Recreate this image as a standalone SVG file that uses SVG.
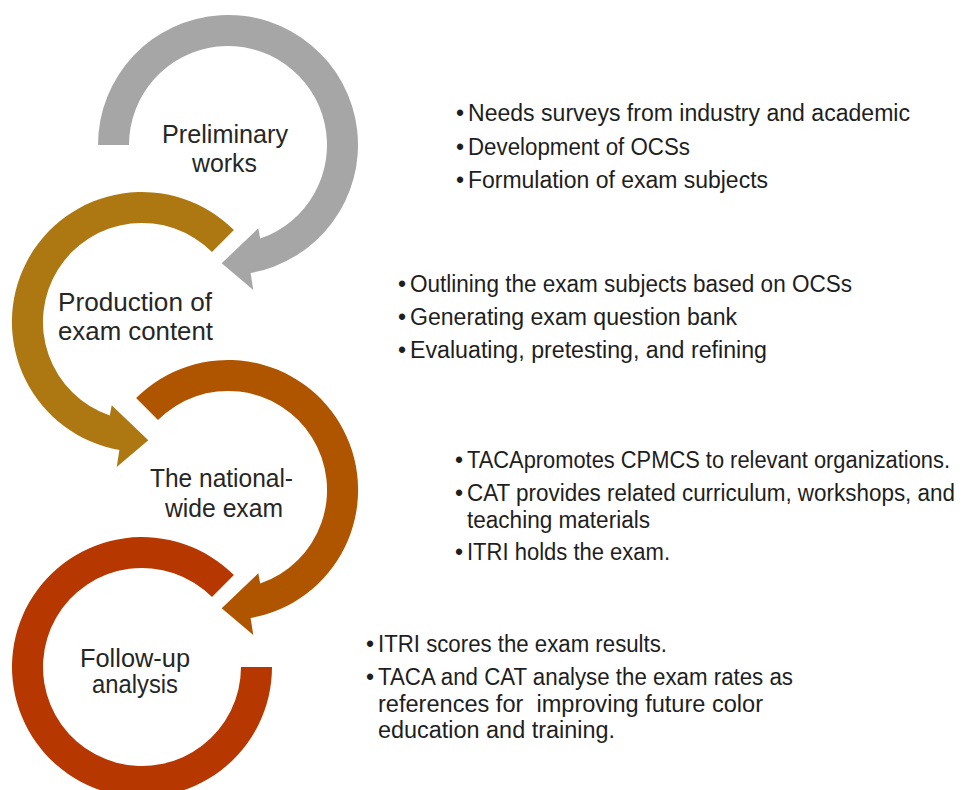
<svg xmlns="http://www.w3.org/2000/svg" width="976" height="790" viewBox="0 0 976 790">
<style>
.lbl{font-family:"Liberation Sans",Arial,sans-serif;font-size:25px;fill:#262626;text-anchor:middle}
.txt{font-family:"Liberation Sans",Arial,sans-serif;font-size:23px;fill:#1e1e1e}
</style>
<rect width="976" height="790" fill="#ffffff"/>
<g id="stage-preliminary">
<path fill="#A6A6A6" d="M 98 145 A 130 130 0 1 1 250.6 273 L 253.3 290 L 221.7 263.3 L 258.3 228.3 L 260.2 238.6 A 99 99 0 1 0 129 145 Z"/>
<text class="lbl" x="225" y="143" textLength="126" lengthAdjust="spacingAndGlyphs">Preliminary</text>
<text class="lbl" x="224.5" y="172" textLength="65" lengthAdjust="spacingAndGlyphs">works</text>
</g>
<g id="stage-production">
<path fill="#AD7812" d="M 233.9 230.1 A 130 130 0 1 0 119.4 450 L 116.7 467 L 148.3 440.3 L 111.7 405.3 L 109.8 415.6 A 99 99 0 1 1 212 252 Z"/>
<text class="lbl" x="135" y="311" textLength="154" lengthAdjust="spacingAndGlyphs">Production of</text>
<text class="lbl" x="135.5" y="340" textLength="155" lengthAdjust="spacingAndGlyphs">exam content</text>
</g>
<g id="stage-exam">
<path fill="#AF5500" d="M 136.1 398.1 A 130 130 0 1 1 250.6 618 L 253.3 635 L 221.7 608.3 L 258.3 573.3 L 260.2 583.6 A 99 99 0 1 0 158 420 Z"/>
<text class="lbl" x="221.5" y="487" textLength="143" lengthAdjust="spacingAndGlyphs">The national-</text>
<text class="lbl" x="224" y="517" textLength="118" lengthAdjust="spacingAndGlyphs">wide exam</text>
</g>
<g id="stage-followup">
<path fill="#B63800" d="M 233.9 575.1 A 130 130 0 1 0 272 667 L 241 667 A 99 99 0 1 1 212 597 Z"/>
<text class="lbl" x="135" y="667" textLength="110" lengthAdjust="spacingAndGlyphs">Follow-up</text>
<text class="lbl" x="135" y="693" textLength="86" lengthAdjust="spacingAndGlyphs">analysis</text>
</g>
<g id="notes-preliminary" class="txt">
<text x="456" y="121">•</text><text x="468" y="121" textLength="442" lengthAdjust="spacingAndGlyphs">Needs surveys from industry and academic</text>
<text x="456" y="154.5">•</text><text x="468" y="154.5" textLength="222" lengthAdjust="spacingAndGlyphs">Development of OCSs</text>
<text x="456" y="188">•</text><text x="468" y="188" textLength="300" lengthAdjust="spacingAndGlyphs">Formulation of exam subjects</text>
</g>
<g id="notes-production" class="txt">
<text x="398" y="292">•</text><text x="410" y="292" textLength="442" lengthAdjust="spacingAndGlyphs">Outlining the exam subjects based on OCSs</text>
<text x="398" y="325">•</text><text x="410" y="325" textLength="327" lengthAdjust="spacingAndGlyphs">Generating exam question bank</text>
<text x="398" y="358">•</text><text x="410" y="358" textLength="357" lengthAdjust="spacingAndGlyphs">Evaluating, pretesting, and refining</text>
</g>
<g id="notes-exam" class="txt">
<text x="455" y="468">•</text><text x="467" y="468" textLength="483" lengthAdjust="spacingAndGlyphs">TACApromotes CPMCS to relevant organizations.</text>
<text x="455" y="501">•</text><text x="467" y="501" textLength="488" lengthAdjust="spacingAndGlyphs">CAT provides related curriculum, workshops, and</text>
<text x="467" y="527.5" textLength="183" lengthAdjust="spacingAndGlyphs">teaching materials</text>
<text x="455" y="560">•</text><text x="467" y="560" textLength="203" lengthAdjust="spacingAndGlyphs">ITRI holds the exam.</text>
</g>
<g id="notes-followup" class="txt">
<text x="366" y="652">•</text><text x="378" y="652" textLength="289" lengthAdjust="spacingAndGlyphs">ITRI scores the exam results.</text>
<text x="366" y="685">•</text><text x="378" y="685" textLength="415" lengthAdjust="spacingAndGlyphs">TACA and CAT analyse the exam rates as</text>
<text x="378" y="711.5" textLength="385" lengthAdjust="spacingAndGlyphs">references for&#160; improving future color</text>
<text x="378" y="738" textLength="237" lengthAdjust="spacingAndGlyphs">education and training.</text>
</g>
</svg>
